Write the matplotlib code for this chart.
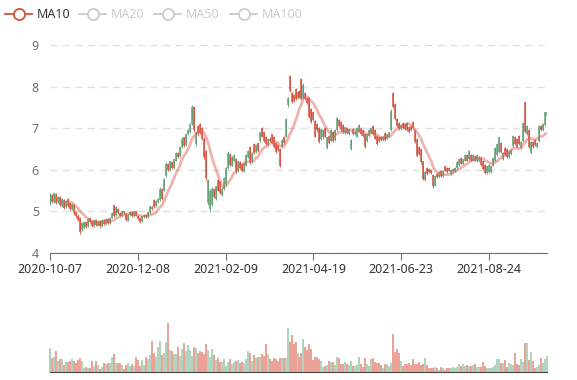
import numpy as np
import pandas as pd
import matplotlib
matplotlib.use("Agg")
import matplotlib.pyplot as plt
from matplotlib.lines import Line2D

plt.rcParams['font.family'] = ['Noto Sans', 'DejaVu Sans']

# daily candles (10 per row)
opens = [
    5.18, 5.40, 5.22, 5.42, 5.22, 5.34, 5.14, 5.28, 5.10, 5.30,
    5.20, 5.06, 5.16, 4.98, 4.90, 4.85, 4.55, 4.60, 4.75, 4.65,
    4.85, 4.78, 4.65, 4.80, 4.66, 4.78, 4.65, 4.80, 4.70, 4.82,
    4.72, 4.85, 5.15, 4.92, 5.05, 4.96, 4.90, 5.00, 4.95, 4.78,
    4.92, 4.98, 4.88, 5.00, 4.90, 4.85, 4.76, 4.86, 4.92, 4.86,
    4.96, 5.10, 5.28, 5.12, 5.22, 5.28, 5.55, 5.50, 5.85, 6.15,
    6.00, 6.18, 6.05, 6.22, 6.40, 6.32, 6.55, 6.78, 6.60, 6.85,
    6.90, 7.10, 7.50, 6.62, 7.05, 7.10, 7.00, 6.75, 6.45, 5.20,
    5.05, 5.15, 5.55, 5.30, 5.75, 5.72, 5.40, 5.55, 5.65, 6.05,
    6.38, 6.10, 6.20, 6.25, 5.98, 6.18, 6.15, 5.98, 6.10, 6.30,
    6.55, 6.18, 6.62, 6.42, 6.65, 6.70, 7.00, 6.90, 6.80, 6.60,
    6.75, 6.85, 6.80, 6.65, 6.60, 6.50, 6.55, 6.80, 6.80, 7.55,
    8.25, 7.85, 7.80, 7.95, 7.72, 7.90, 8.18, 7.72, 7.85, 7.72,
    7.72, 7.45, 7.40, 7.18, 7.10, 7.00, 6.75, 6.78, 7.00, 6.52,
    6.82, 6.70, 6.92, 6.72, 6.95, 7.20, 7.15, 7.08, 6.88, 7.00,
    6.85, 6.50, 6.98, 6.85, 6.80, 6.92, 7.00, 6.95, 6.85, 6.70,
    6.82, 6.88, 7.05, 6.95, 6.82, 6.78, 6.80, 6.72, 6.88, 6.75,
    6.80, 6.95, 7.84, 7.58, 7.22, 7.12, 6.98, 7.12, 7.10, 7.12,
    7.02, 7.05, 7.15, 6.95, 6.75, 6.55, 6.50, 6.20, 5.75, 6.05,
    6.02, 6.00, 5.88, 5.62, 5.90, 5.82, 5.98, 5.85, 6.08, 6.05,
    6.05, 5.90, 5.95, 5.96, 6.05, 6.12, 6.28, 6.15, 6.22, 6.35,
    6.25, 6.35, 6.22, 6.32, 6.20, 6.20, 6.28, 6.20, 6.12, 5.92,
    5.95, 5.95, 6.10, 6.22, 6.35, 6.42, 6.65, 6.25, 6.52, 6.50,
    6.30, 6.38, 6.58, 6.80, 6.75, 6.82, 6.52, 6.70, 7.62, 6.85,
    6.95, 6.40, 6.68, 6.72, 6.55, 6.70, 7.05, 6.95, 7.08, 7.30,
]
closes = [
    5.42, 5.22, 5.44, 5.20, 5.35, 5.15, 5.30, 5.08, 5.24, 5.12,
    5.05, 5.18, 4.95, 4.88, 4.80, 4.50, 4.72, 4.75, 4.62, 4.82,
    4.75, 4.66, 4.80, 4.68, 4.78, 4.64, 4.80, 4.70, 4.82, 4.72,
    4.85, 4.95, 4.90, 5.10, 4.95, 4.90, 5.02, 4.95, 4.80, 4.92,
    4.98, 4.88, 5.00, 4.90, 4.82, 4.75, 4.88, 4.92, 4.86, 4.98,
    5.12, 5.05, 5.10, 5.25, 5.30, 5.55, 5.30, 5.78, 6.15, 6.00,
    6.20, 6.05, 6.25, 6.40, 6.30, 6.55, 6.75, 6.58, 6.85, 6.95,
    7.10, 7.52, 6.95, 6.90, 6.85, 6.88, 6.75, 6.30, 5.80, 5.75,
    5.50, 5.55, 5.35, 5.60, 5.50, 5.45, 5.55, 5.80, 6.05, 6.40,
    6.12, 6.30, 6.35, 5.95, 6.20, 6.05, 5.98, 6.15, 6.35, 6.45,
    6.18, 6.40, 6.40, 6.60, 6.45, 6.90, 6.80, 6.70, 6.62, 6.75,
    6.70, 6.65, 6.55, 6.42, 6.48, 6.10, 6.72, 6.65, 7.22, 7.72,
    7.90, 7.62, 7.65, 7.70, 7.88, 7.75, 7.70, 8.05, 7.70, 7.60,
    7.28, 7.15, 7.20, 6.80, 6.95, 6.68, 6.98, 6.95, 6.80, 6.78,
    6.65, 6.95, 6.70, 6.95, 7.25, 7.05, 6.95, 6.90, 7.02, 6.88,
    6.98, 6.72, 6.85, 6.92, 7.00, 7.08, 6.85, 6.82, 6.55, 6.85,
    6.95, 7.00, 6.85, 6.75, 6.62, 6.70, 6.72, 6.80, 6.72, 6.85,
    6.90, 7.42, 7.50, 7.22, 7.05, 6.98, 7.08, 7.00, 6.98, 6.95,
    6.90, 6.95, 7.00, 6.68, 6.32, 6.38, 6.18, 5.78, 5.95, 5.90,
    5.95, 5.92, 5.60, 5.85, 5.82, 5.95, 5.85, 5.98, 5.98, 5.95,
    5.98, 6.00, 6.02, 6.04, 6.18, 6.25, 6.15, 6.25, 6.35, 6.22,
    6.45, 6.22, 6.35, 6.22, 6.35, 6.30, 6.12, 6.02, 5.92, 6.08,
    6.12, 6.10, 6.28, 6.52, 6.62, 6.78, 6.42, 6.40, 6.35, 6.30,
    6.45, 6.48, 6.82, 6.62, 6.55, 6.62, 6.68, 7.12, 6.90, 7.05,
    6.55, 6.68, 6.55, 6.60, 6.65, 7.05, 6.95, 7.10, 7.38, 7.40,
]
highs = [
    5.45, 5.43, 5.46, 5.44, 5.38, 5.36, 5.32, 5.30, 5.27, 5.32,
    5.22, 5.20, 5.18, 5.00, 4.93, 4.87, 4.74, 4.78, 4.77, 4.84,
    4.87, 4.80, 4.82, 4.82, 4.80, 4.80, 4.82, 4.82, 4.84, 4.84,
    4.87, 4.98, 5.16, 5.12, 5.07, 4.98, 5.04, 5.02, 4.97, 4.94,
    5.00, 5.00, 5.02, 5.02, 4.92, 4.87, 4.90, 4.94, 4.94, 5.00,
    5.14, 5.12, 5.30, 5.27, 5.33, 5.58, 5.57, 5.80, 6.18, 6.17,
    6.22, 6.20, 6.27, 6.42, 6.42, 6.57, 6.78, 6.80, 6.87, 6.98,
    7.12, 7.55, 7.53, 6.92, 7.08, 7.13, 7.02, 6.78, 6.48, 5.78,
    5.53, 5.58, 5.57, 5.62, 5.78, 5.74, 5.58, 5.82, 6.07, 6.45,
    6.40, 6.32, 6.37, 6.28, 6.22, 6.20, 6.17, 6.18, 6.37, 6.48,
    6.58, 6.42, 6.64, 6.62, 6.67, 6.92, 7.02, 6.92, 6.82, 6.77,
    6.78, 6.87, 6.82, 6.67, 6.62, 6.52, 6.74, 6.82, 7.25, 7.75,
    8.28, 7.88, 7.83, 7.97, 7.90, 7.92, 8.20, 8.08, 7.88, 7.75,
    7.75, 7.48, 7.42, 7.20, 7.12, 7.02, 7.00, 6.97, 7.02, 6.80,
    6.84, 6.97, 6.94, 6.97, 7.27, 7.22, 7.17, 7.10, 7.04, 7.02,
    7.00, 6.74, 7.00, 6.94, 7.02, 7.10, 7.02, 6.97, 6.87, 6.87,
    6.97, 7.02, 7.07, 6.97, 6.84, 6.80, 6.82, 6.82, 6.90, 6.87,
    6.92, 7.45, 7.86, 7.60, 7.24, 7.14, 7.10, 7.14, 7.12, 7.14,
    7.04, 7.07, 7.17, 6.97, 6.77, 6.57, 6.52, 6.22, 5.97, 6.07,
    6.04, 6.02, 5.90, 5.87, 5.92, 5.97, 6.00, 6.00, 6.10, 6.07,
    6.07, 6.02, 6.04, 6.06, 6.20, 6.27, 6.30, 6.27, 6.37, 6.37,
    6.47, 6.37, 6.37, 6.34, 6.37, 6.32, 6.30, 6.22, 6.14, 6.10,
    6.14, 6.12, 6.30, 6.54, 6.64, 6.80, 6.67, 6.42, 6.54, 6.52,
    6.47, 6.50, 6.84, 6.82, 6.77, 6.84, 6.70, 7.14, 7.64, 7.07,
    6.97, 6.70, 6.70, 6.74, 6.67, 7.07, 7.07, 7.12, 7.40, 7.42,
]
lows = [
    5.15, 5.19, 5.20, 5.17, 5.20, 5.12, 5.11, 5.05, 5.08, 5.10,
    5.02, 5.04, 4.92, 4.85, 4.77, 4.46, 4.52, 4.58, 4.60, 4.63,
    4.73, 4.63, 4.63, 4.66, 4.64, 4.61, 4.63, 4.68, 4.68, 4.70,
    4.70, 4.83, 4.87, 4.90, 4.93, 4.88, 4.88, 4.93, 4.78, 4.76,
    4.90, 4.86, 4.86, 4.88, 4.80, 4.72, 4.74, 4.84, 4.84, 4.84,
    4.94, 5.03, 5.08, 5.10, 5.20, 5.26, 5.28, 5.48, 5.83, 5.97,
    5.98, 6.02, 6.03, 6.20, 6.28, 6.30, 6.53, 6.55, 6.58, 6.83,
    6.88, 7.08, 6.92, 6.58, 6.82, 6.85, 6.72, 6.27, 5.76, 5.16,
    4.98, 5.12, 5.32, 5.27, 5.48, 5.42, 5.37, 5.52, 5.62, 6.02,
    6.10, 6.08, 6.18, 5.92, 5.95, 6.02, 5.95, 5.95, 6.08, 6.28,
    6.15, 6.16, 6.38, 6.40, 6.42, 6.68, 6.78, 6.68, 6.60, 6.58,
    6.68, 6.62, 6.52, 6.40, 6.45, 6.07, 6.52, 6.62, 6.78, 7.52,
    7.88, 7.60, 7.62, 7.68, 7.70, 7.72, 7.67, 7.70, 7.67, 7.58,
    7.25, 7.12, 7.18, 6.78, 6.92, 6.65, 6.72, 6.75, 6.78, 6.50,
    6.62, 6.68, 6.68, 6.70, 6.93, 7.03, 6.93, 6.88, 6.86, 6.86,
    6.83, 6.48, 6.83, 6.83, 6.78, 6.90, 6.83, 6.80, 6.52, 6.68,
    6.80, 6.86, 6.83, 6.73, 6.60, 6.68, 6.70, 6.70, 6.70, 6.73,
    6.78, 6.93, 7.48, 7.20, 7.03, 6.96, 6.96, 6.98, 6.96, 6.93,
    6.88, 6.93, 6.98, 6.65, 6.30, 6.35, 6.15, 5.75, 5.72, 5.88,
    5.93, 5.90, 5.57, 5.60, 5.80, 5.80, 5.83, 5.83, 5.96, 5.93,
    5.96, 5.88, 5.93, 5.94, 6.03, 6.10, 6.13, 6.13, 6.20, 6.20,
    6.23, 6.20, 6.20, 6.20, 6.18, 6.18, 6.10, 6.00, 5.90, 5.90,
    5.93, 5.93, 6.08, 6.20, 6.33, 6.40, 6.40, 6.23, 6.33, 6.28,
    6.28, 6.36, 6.56, 6.60, 6.53, 6.60, 6.50, 6.68, 6.88, 6.83,
    6.53, 6.38, 6.53, 6.58, 6.53, 6.68, 6.93, 6.93, 7.06, 7.28,
]
volumes = [
    71, 41, 44, 63, 34, 39, 39, 21, 29, 31,
    33, 38, 33, 28, 36, 41, 33, 13, 14, 13,
    12, 32, 17, 32, 20, 9, 16, 26, 23, 26,
    26, 44, 53, 28, 28, 26, 22, 9, 20, 26,
    18, 23, 18, 44, 36, 18, 36, 21, 44, 38,
    50, 94, 56, 46, 74, 94, 51, 56, 89, 148,
    66, 63, 54, 54, 74, 48, 68, 86, 63, 81,
    66, 48, 75, 73, 58, 64, 61, 53, 83, 66,
    44, 69, 51, 36, 41, 29, 29, 38, 18, 29,
    38, 24, 29, 32, 35, 28, 29, 28, 38, 62,
    57, 34, 50, 42, 46, 46, 54, 48, 84, 53,
    38, 33, 41, 40, 33, 41, 41, 41, 41, 131,
    89, 110, 84, 91, 56, 46, 58, 98, 76, 66,
    83, 68, 36, 46, 44, 40, 33, 14, 19, 21,
    32, 29, 29, 21, 44, 42, 24, 24, 31, 25,
    20, 33, 19, 19, 21, 44, 24, 16, 41, 24,
    18, 38, 41, 29, 27, 27, 21, 11, 24, 24,
    19, 26, 114, 61, 68, 58, 33, 19, 24, 24,
    26, 20, 40, 24, 24, 29, 21, 24, 42, 20,
    11, 11, 13, 16, 11, 6, 14, 13, 6, 11,
    11, 13, 16, 11, 14, 23, 19, 23, 18, 20,
    19, 18, 20, 23, 16, 16, 16, 30, 18, 12,
    11, 11, 14, 20, 38, 38, 26, 26, 36, 14,
    26, 24, 21, 58, 24, 21, 39, 31, 86, 88,
    36, 59, 33, 13, 14, 22, 41, 26, 39, 48,
]
tick_labels = ["2020-10-07", "2020-12-08", "2021-02-09",
               "2021-04-19", "2021-06-23", "2021-08-24"]
label_step = 44
legend_names = ["MA10", "MA20", "MA50", "MA100"]

o = np.array(opens)
c = np.array(closes)
h = np.array(highs)
l = np.array(lows)
v = np.array(volumes)
x = np.arange(len(c))
ma10 = pd.Series(c).rolling(10).mean()

UP = '#5f9f74'
DOWN = '#d4503d'
up = c >= o
cols = np.where(up, UP, DOWN)
vcols = np.where(up, '#a8d0b8', '#eb9a8c')
axis_grey = '#6e7079'

W, H = 577, 380
fig = plt.figure(figsize=(W / 100, H / 100), dpi=100)

# main candle panel
ax = fig.add_axes([50 / W, (H - 253) / H, 497 / W, 208 / H])
ax.vlines(x, l, h, colors=cols, lw=0.6)
ax.vlines(x, np.minimum(o, c), np.maximum(o, c), colors=cols, lw=1.1)
ax.plot(x, ma10, color='#dc6a5c', alpha=0.5, lw=2.0, solid_capstyle='round')
ax.set_xlim(0, len(c) - 1)
ax.set_ylim(4, 9)
ax.set_yticks([4, 5, 6, 7, 8, 9])
ax.grid(axis='y', color='#e0e0e0', lw=1, ls=(0, (5, 4)))
ax.set_axisbelow(True)
for s in ['top', 'right', 'left']:
    ax.spines[s].set_visible(False)
ax.spines['bottom'].set_color(axis_grey)
ax.tick_params(axis='y', length=0, pad=8, labelsize=9, labelcolor=axis_grey)
ax.set_xticks(x[::label_step][:len(tick_labels)])
ax.set_xticklabels(tick_labels)
ax.tick_params(axis='x', length=5, color=axis_grey, labelsize=9,
               labelcolor='#333333', pad=2)

# volume panel
axv = fig.add_axes([50 / W, (H - 372) / H, 497 / W, 50 / H])
axv.vlines(x, 0, v, colors=vcols, lw=1.3, clip_on=False)
axv.set_xlim(0, len(c) - 1)
axv.set_ylim(0, 150)
axv.set_xticks([])
axv.set_yticks([])
for s in ['top', 'right', 'left']:
    axv.spines[s].set_visible(False)
axv.spines['bottom'].set_color('#444444')

# legend, drawn in pixel space
lg = fig.add_axes([0, 0, 1, 1])
lg.set_xlim(0, W)
lg.set_ylim(H, 0)
lg.axis('off')
lg.patch.set_alpha(0)
starts = [5, 79, 154, 230]
for i, (name, x0) in enumerate(zip(legend_names, starts)):
    col = '#d4503d' if i == 0 else '#cccccc'
    tcol = '#333333' if i == 0 else '#cccccc'
    lg.add_line(Line2D([x0, x0 + 27], [14, 14], color=col, lw=1.3))
    lg.plot([x0 + 13.5], [14], marker='o', ms=8, mfc='white', mec=col, mew=1.3)
    lg.text(x0 + 32, 14.5, name, color=tcol, fontsize=9, va='center', ha='left')

fig.savefig('out.png', dpi=100)
